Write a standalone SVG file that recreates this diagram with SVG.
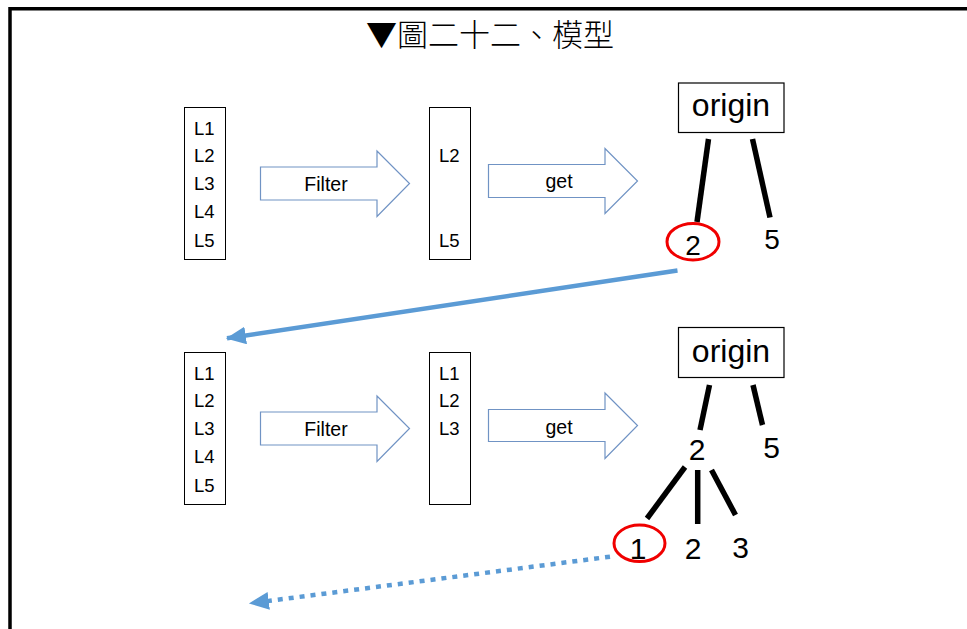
<svg xmlns="http://www.w3.org/2000/svg" width="967" height="629" viewBox="0 0 967 629">
  <style>
    .frame { fill: none; stroke: #000; stroke-width: 3.5; }
    .list { fill: #fff; stroke: #000; stroke-width: 1; }
    .lbl { font-family: "Liberation Sans", Arial, sans-serif; font-size: 18.5px; fill: #000; }
    .blk { fill: #fff; stroke: #7093C4; stroke-width: 1.2; }
    .blkt { font-family: "Liberation Sans", Arial, sans-serif; font-size: 19.5px; fill: #000; text-anchor: middle; }
    .orig { fill: #fff; stroke: #000; stroke-width: 1.2; }
    .origt { font-family: "Liberation Sans", Arial, sans-serif; font-size: 32px; fill: #000; text-anchor: middle; }
    .num { font-family: "Liberation Sans", Arial, sans-serif; fill: #000; text-anchor: middle; }
    .edge { stroke: #000; stroke-width: 5.5; stroke-linecap: butt; }
    .ring { fill: none; stroke: #F00000; stroke-width: 3; }
    .flow { fill: none; stroke: #5B9BD5; stroke-width: 4.5; }
    .title { font-family: "Noto Sans CJK TC", "Noto Sans CJK SC", sans-serif; font-size: 31px; font-weight: 300; fill: #000; text-anchor: middle; }
  </style>
  <defs>
    <marker id="tri" markerUnits="userSpaceOnUse" markerWidth="20" markerHeight="18" refX="17" refY="8" orient="auto" viewBox="0 0 18 16">
      <path d="M0,0 L18,8 L0,16 Z" fill="#5B9BD5"/>
    </marker>
  </defs>

  <rect width="967" height="629" fill="#fff"/>
  <!-- page frame: top and left edges -->
  <path class="frame" d="M10,629 V8.7 H967"/>

  <text class="title" x="490" y="46">▼圖二十二、模型</text>

  <!-- row 1 -->
  <g id="list-a1">
    <rect class="list" x="184.5" y="107.5" width="41" height="152"/>
    <text class="lbl" x="194" y="134.5">L1</text>
    <text class="lbl" x="194" y="162">L2</text>
    <text class="lbl" x="194" y="190">L3</text>
    <text class="lbl" x="194" y="218">L4</text>
    <text class="lbl" x="194" y="246.5">L5</text>
  </g>
  <g id="filter-1">
    <path class="blk" d="M260.5,167 H377 V151 L409.5,183.5 L377,216.5 V200 H260.5 Z"/>
    <text class="blkt" x="326" y="191">Filter</text>
  </g>
  <g id="list-b1">
    <rect class="list" x="429.5" y="107.5" width="41" height="152"/>
    <text class="lbl" x="439" y="162">L2</text>
    <text class="lbl" x="439" y="246.5">L5</text>
  </g>
  <g id="get-1">
    <path class="blk" d="M488.5,164.5 H605 V148.5 L637.5,181 L605,213.5 V197.5 H488.5 Z"/>
    <text class="blkt" x="559" y="187.5">get</text>
  </g>
  <g id="origin-1">
    <rect class="orig" x="678.5" y="83" width="105.5" height="49.5"/>
    <text class="origt" x="731" y="116">origin</text>
  </g>
  <g id="tree-1">
    <line class="edge" x1="708.5" y1="139" x2="697" y2="222"/>
    <line class="edge" x1="752.5" y1="139" x2="770" y2="217.5"/>
    <text class="num" x="693" y="254.5" font-size="28">2</text>
    <text class="num" x="772" y="249" font-size="28">5</text>
    <ellipse class="ring" cx="693" cy="241.7" rx="26" ry="18.3"/>
  </g>

  <!-- row 2 -->
  <g id="list-a2">
    <rect class="list" x="184.5" y="352.5" width="41" height="152"/>
    <text class="lbl" x="194" y="379.5">L1</text>
    <text class="lbl" x="194" y="407">L2</text>
    <text class="lbl" x="194" y="435">L3</text>
    <text class="lbl" x="194" y="463">L4</text>
    <text class="lbl" x="194" y="491.5">L5</text>
  </g>
  <g id="filter-2">
    <path class="blk" d="M260.5,412 H377 V396 L409.5,428.5 L377,461.5 V445 H260.5 Z"/>
    <text class="blkt" x="326" y="436">Filter</text>
  </g>
  <g id="list-b2">
    <rect class="list" x="429.5" y="352.5" width="41" height="152"/>
    <text class="lbl" x="439" y="379.5">L1</text>
    <text class="lbl" x="439" y="407">L2</text>
    <text class="lbl" x="439" y="435">L3</text>
  </g>
  <g id="get-2">
    <path class="blk" d="M488.5,409.5 H605 V393 L637.5,425.5 L605,458.5 V441.5 H488.5 Z"/>
    <text class="blkt" x="559" y="433.5">get</text>
  </g>
  <g id="origin-2">
    <rect class="orig" x="678.5" y="327.5" width="105.5" height="50"/>
    <text class="origt" x="731" y="361.5">origin</text>
  </g>
  <g id="tree-2">
    <line class="edge" x1="709.5" y1="385" x2="700" y2="430"/>
    <line class="edge" x1="753" y1="385" x2="762.5" y2="425"/>
    <text class="num" x="697" y="460" font-size="30">2</text>
    <text class="num" x="771.5" y="457.5" font-size="30">5</text>
    <line class="edge" x1="685" y1="467" x2="647" y2="518.5"/>
    <line class="edge" x1="697.7" y1="470" x2="697.7" y2="524"/>
    <line class="edge" x1="711.5" y1="470" x2="735.5" y2="515"/>
    <text class="num" x="638" y="558.5" font-size="30">1</text>
    <text class="num" x="693" y="559" font-size="30">2</text>
    <text class="num" x="740.5" y="557.5" font-size="30">3</text>
    <ellipse class="ring" cx="639.5" cy="543.3" rx="25.5" ry="18.3"/>
  </g>

  <!-- connectors between rows -->
  <g id="connectors">
    <line class="flow" x1="677.5" y1="270.5" x2="227" y2="338.3" marker-end="url(#tri)"/>
    <line class="flow" x1="610" y1="556.7" x2="250" y2="603.3" stroke-dasharray="5 6" marker-end="url(#tri)"/>
  </g>
</svg>
